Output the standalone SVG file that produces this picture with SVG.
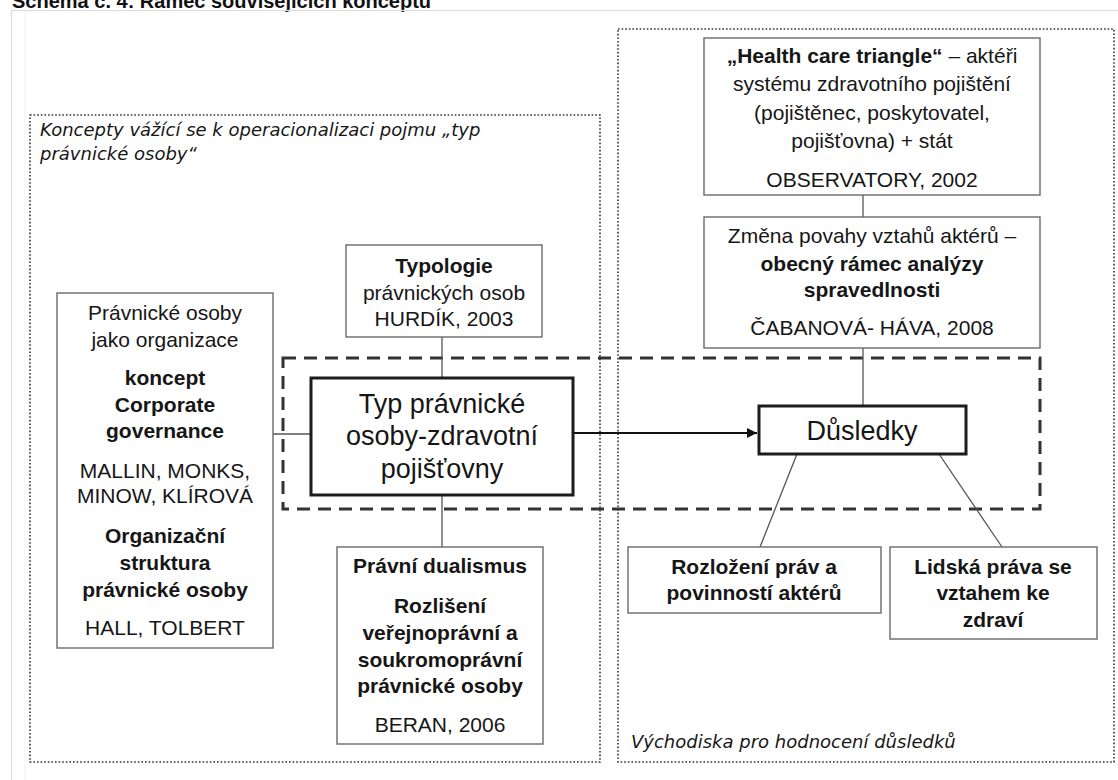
<svg xmlns="http://www.w3.org/2000/svg" width="1118" height="780" viewBox="0 0 1118 780">
<defs>
<style>
.t{font-family:"Liberation Sans",Arial,sans-serif;font-size:21px;fill:#161616;text-anchor:middle}
.b{font-weight:bold}
.big{font-family:"Liberation Sans",Arial,sans-serif;font-size:27px;fill:#161616;text-anchor:middle}
.it{font-family:"DejaVu Sans",Verdana,sans-serif;font-style:italic;font-size:18px;fill:#161616}
.box{fill:#fff;stroke:#6a6a6a;stroke-width:1.4}
.heavy{fill:#fff;stroke:#1c1c1c;stroke-width:3}
.dot{fill:none;stroke:#333;stroke-width:1.6;stroke-dasharray:1.6 2}
.dash{fill:none;stroke:#333;stroke-width:3;stroke-dasharray:13 8}
.ln{stroke:#555;stroke-width:1.3;fill:none}
</style>
<marker id="ah" viewBox="0 0 10 10" refX="10" refY="5" markerWidth="10" markerHeight="10" markerUnits="userSpaceOnUse" orient="auto">
<path d="M0,0 L10,5 L0,10 z" fill="#111"/>
</marker>
</defs>
<rect width="1118" height="780" fill="#fff"/>
<text x="12" y="8" font-family="Liberation Sans,Arial,sans-serif" font-weight="bold" font-size="20" fill="#111">Schéma č. 4: Rámec souvisejících konceptů</text>
<rect x="11.5" y="10.5" width="1120" height="780" fill="none" stroke="#dcdcdc" stroke-width="1.2"/>
<line x1="25" y1="11" x2="25" y2="780" stroke="#f0f0f0" stroke-width="1"/>

<g id="frame-left">
<rect class="dot" x="30" y="115" width="570" height="647"/>
<text class="it" x="40" y="136">Koncepty vážící se k operacionalizaci pojmu „typ</text>
<text class="it" x="40" y="160">právnické osoby“</text>
</g>
<g id="frame-right">
<rect class="dot" x="618" y="29" width="496" height="733"/>
<text class="it" x="631" y="748">Východiska pro hodnocení důsledků</text>
</g>
<g id="focus">
<rect class="dash" x="283" y="358" width="757" height="151"/>
</g>

<g id="connectors">
<line class="ln" x1="273" y1="434" x2="311" y2="434"/>
<line class="ln" x1="442" y1="337" x2="442" y2="378"/>
<line class="ln" x1="442" y1="495" x2="442" y2="547"/>
<line class="ln" x1="863" y1="195" x2="863" y2="217"/>
<line class="ln" x1="863" y1="348" x2="863" y2="406"/>
<line class="ln" x1="797" y1="454" x2="760" y2="547"/>
<line class="ln" x1="939" y1="454" x2="1002" y2="547"/>
<line x1="573" y1="433" x2="757" y2="433" stroke="#111" stroke-width="2.2" marker-end="url(#ah)"/>
</g>

<g id="node-pravnicke-osoby">
<rect class="box" x="57" y="293" width="216" height="355"/>
<text class="t" x="165" y="320">Právnické osoby</text>
<text class="t" x="165" y="347">jako organizace</text>
<text class="t b" x="165" y="385">koncept</text>
<text class="t b" x="165" y="412">Corporate</text>
<text class="t b" x="165" y="438">governance</text>
<text class="t" x="165" y="478">MALLIN, MONKS,</text>
<text class="t" x="165" y="503">MINOW, KLÍROVÁ</text>
<text class="t b" x="165" y="543">Organizační</text>
<text class="t b" x="165" y="570">struktura</text>
<text class="t b" x="165" y="597">právnické osoby</text>
<text class="t" x="165" y="635">HALL, TOLBERT</text>
</g>

<g id="node-typologie">
<rect class="box" x="346" y="245" width="196" height="92"/>
<text class="t b" x="444" y="273">Typologie</text>
<text class="t" x="444" y="300">právnických osob</text>
<text class="t" x="444" y="326">HURDÍK, 2003</text>
</g>

<g id="node-typ">
<rect class="heavy" x="311" y="378" width="262" height="117"/>
<text class="big" x="442" y="413">Typ právnické</text>
<text class="big" x="442" y="445">osoby-zdravotní</text>
<text class="big" x="442" y="478">pojišťovny</text>
</g>

<g id="node-dualismus">
<rect class="box" x="337" y="547" width="206" height="197"/>
<text class="t b" x="440" y="573">Právní dualismus</text>
<text class="t b" x="440" y="613">Rozlišení</text>
<text class="t b" x="440" y="640">veřejnoprávní a</text>
<text class="t b" x="440" y="667">soukromoprávní</text>
<text class="t b" x="440" y="693">právnické osoby</text>
<text class="t" x="440" y="732">BERAN, 2006</text>
</g>

<g id="node-health">
<rect class="box" x="704" y="38" width="336" height="157"/>
<text class="t" x="872" y="63"><tspan class="b">„Health care triangle“</tspan> – aktéři</text>
<text class="t" x="872" y="91">systému zdravotního pojištění</text>
<text class="t" x="872" y="120">(pojištěnec, poskytovatel,</text>
<text class="t" x="872" y="148">pojišťovna) + stát</text>
<text class="t" x="872" y="187">OBSERVATORY, 2002</text>
</g>

<g id="node-zmena">
<rect class="box" x="704" y="217" width="336" height="131"/>
<text class="t" x="872" y="243">Změna povahy vztahů aktérů –</text>
<text class="t b" x="872" y="271">obecný rámec analýzy</text>
<text class="t b" x="872" y="297">spravedlnosti</text>
<text class="t" x="872" y="335">ČABANOVÁ- HÁVA, 2008</text>
</g>

<g id="node-dusledky">
<rect class="heavy" x="759" y="406" width="207" height="48"/>
<text class="big" x="862" y="440">Důsledky</text>
</g>

<g id="node-rozlozeni">
<rect class="box" x="628" y="547" width="253" height="66"/>
<text class="t b" x="754" y="574">Rozložení práv a</text>
<text class="t b" x="754" y="600">povinností aktérů</text>
</g>

<g id="node-lidska">
<rect class="box" x="890" y="547" width="207" height="92"/>
<text class="t b" x="993" y="574">Lidská práva se</text>
<text class="t b" x="993" y="600">vztahem ke</text>
<text class="t b" x="993" y="627">zdraví</text>
</g>
</svg>
